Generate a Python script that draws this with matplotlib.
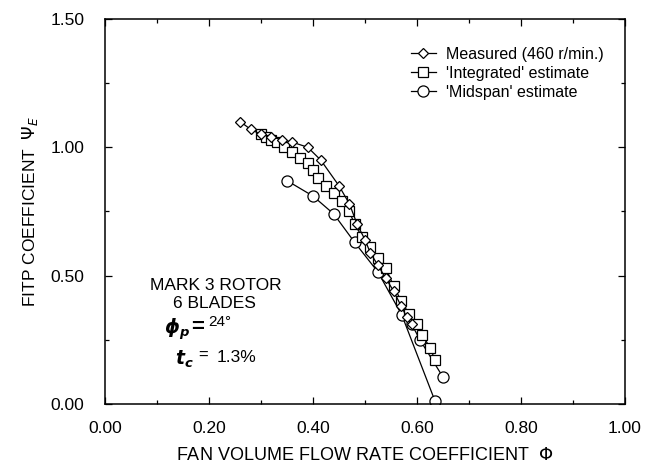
import matplotlib
matplotlib.use("Agg")
import matplotlib.pyplot as plt
from matplotlib.ticker import MultipleLocator, FormatStrFormatter

plt.rcParams["font.family"] = ["Liberation Sans", "DejaVu Sans"]

# measured (460 r/min) - diamonds
measured_x = [0.26, 0.28, 0.30, 0.32, 0.34, 0.36, 0.39, 0.415, 0.45, 0.47,
              0.485, 0.50, 0.51, 0.525, 0.54, 0.555, 0.57, 0.58, 0.59]
measured_y = [1.10, 1.07, 1.05, 1.04, 1.03, 1.02, 1.00, 0.95, 0.85, 0.78,
              0.70, 0.64, 0.59, 0.54, 0.49, 0.44, 0.38, 0.34, 0.31]
# last measured points drawn as circles
measured_tail_x = [0.59, 0.606, 0.65]
measured_tail_y = [0.31, 0.249, 0.105]

# 'Integrated' estimate - squares
integrated_x = [0.30, 0.31, 0.32, 0.33, 0.345, 0.36, 0.375, 0.39, 0.40, 0.41,
                0.425, 0.44, 0.455, 0.47, 0.48, 0.495, 0.51, 0.525, 0.54,
                0.555, 0.57, 0.585, 0.60, 0.61, 0.625, 0.635]
integrated_y = [1.05, 1.04, 1.03, 1.02, 1.00, 0.98, 0.96, 0.94, 0.91, 0.88,
                0.85, 0.82, 0.79, 0.75, 0.70, 0.65, 0.61, 0.57, 0.53,
                0.46, 0.40, 0.35, 0.31, 0.27, 0.22, 0.17]

# 'Midspan' estimate - circles
midspan_x = [0.35, 0.40, 0.44, 0.48, 0.525, 0.571, 0.635]
midspan_y = [0.87, 0.81, 0.74, 0.63, 0.514, 0.346, 0.01]

fig = plt.figure(figsize=(6.5, 4.72), dpi=100)
ax = fig.add_axes([0.1615, 0.144, 0.8, 0.816])

line_kw = dict(color="black", linewidth=0.9, markerfacecolor="white",
               markeredgecolor="black", markeredgewidth=0.9)

ax.plot(measured_tail_x, measured_tail_y, marker="o", markersize=8, **line_kw)
ax.plot(midspan_x, midspan_y, marker="o", markersize=8,
        label="'Midspan' estimate", **line_kw)
ax.plot(integrated_x, integrated_y, marker="s", markersize=7,
        label="'Integrated' estimate", **line_kw)
ax.plot(measured_x, measured_y, marker="D", markersize=5.5,
        label="Measured (460 r/min.)", **line_kw)

ax.set_xlim(0, 1.0)
ax.set_ylim(0, 1.5)
ax.xaxis.set_major_locator(MultipleLocator(0.2))
ax.xaxis.set_minor_locator(MultipleLocator(0.1))
ax.yaxis.set_major_locator(MultipleLocator(0.5))
ax.yaxis.set_minor_locator(MultipleLocator(0.25))
ax.xaxis.set_major_formatter(FormatStrFormatter("%.2f"))
ax.yaxis.set_major_formatter(FormatStrFormatter("%.2f"))
ax.tick_params(which="both", direction="in", top=True, right=True,
               labelsize=12.5, width=0.9)
ax.tick_params(which="major", length=5)
ax.tick_params(which="minor", length=3)
ax.tick_params(axis="x", which="major", pad=12)
ax.tick_params(axis="y", which="major", pad=15)
for spine in ax.spines.values():
    spine.set_linewidth(1.1)

ax.set_xlabel(r"FAN VOLUME FLOW RATE COEFFICIENT  $\Phi$", fontsize=13,
              labelpad=8)
ax.set_ylabel(r"FITP COEFFICIENT  $\Psi_E$", fontsize=12.5, labelpad=7)

handles, labels = ax.get_legend_handles_labels()
leg = ax.legend(handles[::-1], labels[::-1], loc="upper left",
                bbox_to_anchor=(0.56, 0.965), frameon=False, fontsize=11.5,
                handlelength=1.6, labelspacing=0.25, handletextpad=0.6)

ax.text(0.213, 0.463, "MARK 3 ROTOR", ha="center", va="center",
        fontsize=12.5)
ax.text(0.21, 0.393, "6 BLADES", ha="center", va="center", fontsize=12.5)
# phi_p = 24 deg
ax.text(0.114, 0.29, r"$\boldsymbol{\phi}_{\boldsymbol{p}}$", ha="left",
        va="center", fontsize=13.5)
ax.text(0.166, 0.298, "=", ha="left", va="center", fontsize=16,
        fontweight="bold")
ax.text(0.198, 0.318, "24°", ha="left", va="center", fontsize=11)
# t_c = 1.3 %
ax.text(0.134, 0.175, r"$\boldsymbol{t}_{\boldsymbol{c}}$", ha="left",
        va="center", fontsize=13.5)
ax.text(0.180, 0.19, "=", ha="left", va="center", fontsize=12)
ax.text(0.214, 0.183, "1.3%", ha="left", va="center", fontsize=12.5)

fig.savefig("out.png", dpi=100)
